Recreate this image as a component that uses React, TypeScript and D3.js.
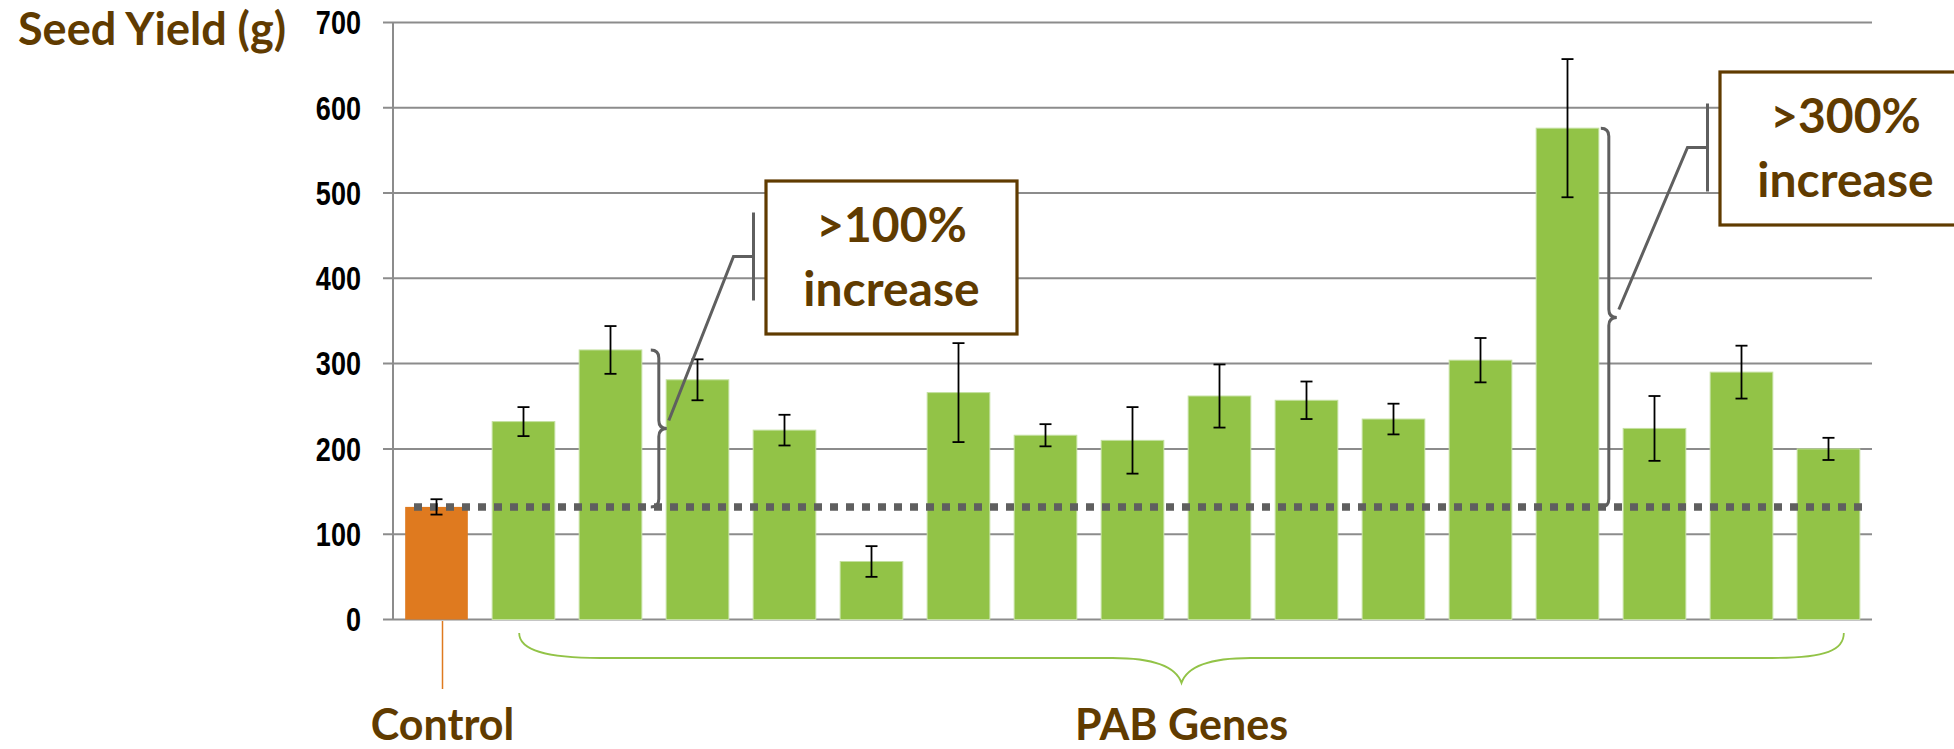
import React from "react";
import * as d3 from "d3";

const categories = ["Control", "PAB1", "PAB2", "PAB3", "PAB4", "PAB5", "PAB6", "PAB7", "PAB8", "PAB9", "PAB10", "PAB11", "PAB12", "PAB13", "PAB14", "PAB15", "PAB16"];
const values = [132, 232, 316, 281, 222, 68, 266, 216, 210, 262, 257, 235, 304, 576, 224, 290, 200];
const errors = [9, 17, 28, 24, 18, 18, 58, 13, 39, 37, 22, 18, 26, 81, 38, 31, 13];
const yTicks = [0, 100, 200, 300, 400, 500, 600, 700];
const yTitle = "Seed Yield (g)";
const groupLabels = ["Control", "PAB Genes"];
const annotations = [
  { from: 2, line1: ">100%", line2: "increase" },
  { from: 13, line1: ">300%", line2: "increase" },
];

const W = 1954;
const H = 749;
const BROWN = "#603b00";
const GREEN = "#92c347";
const ORANGE = "#df7a1f";
const GRID = "#8c8c8c";
const DARK = "#5f5f5f";
const LABEL_FONT = "Lato, 'Open Sans', sans-serif";

export default function App() {
  const x = d3
    .scaleBand<string>()
    .domain(categories)
    .range([393, 1872])
    .paddingInner(0.28)
    .paddingOuter(0.14);
  const y = d3.scaleLinear().domain([0, 700]).range([619.5, 22.4]);
  const bw = x.bandwidth();
  const base = values[0];
  const yBase = y(base);

  const brace = (sx: number, y1: number, y2: number) => {
    const ym = (y1 + y2) / 2;
    const h = 8;
    return `M${sx - h},${y1} Q${sx},${y1} ${sx},${y1 + h} L${sx},${ym - h} Q${sx},${ym} ${sx + h},${ym} Q${sx},${ym} ${sx},${ym + h} L${sx},${y2 - h} Q${sx},${y2} ${sx - h},${y2}`;
  };

  const boxes = [
    { bx: 766, by: 181, off: 17 },
    { bx: 1720, by: 72, off: 10 },
  ];
  const boxW = 251;
  const boxH = 153;

  // bottom green brace
  const gL = (x(categories[1]) as number) + 27;
  const gR = (x(categories[16]) as number) + bw - 16;
  const gM = (gL + gR) / 2;
  const gTop = 633;
  const gMid = 658;
  const gTip = 683;
  const greenBrace = `M${gL},${gTop} C${gL},${gMid - 8} ${gL + 26},${gMid} ${gL + 81},${gMid} L${gM - 69},${gMid} C${gM - 31},${gMid} ${gM - 6},${gMid + 7} ${gM},${gTip} C${gM + 6},${gMid + 7} ${gM + 31},${gMid} ${gM + 69},${gMid} L${gR - 72},${gMid} C${gR - 17},${gMid} ${gR},${gMid - 8} ${gR},${gTop}`;

  const ctrlX = (x(categories[0]) as number) + bw / 2 + 6;

  return (
    <svg
      width={W}
      height={H}
      style={{ position: "absolute", left: 0, top: 0, background: "#fff" }}
      xmlns="http://www.w3.org/2000/svg"
    >
      {/* gridlines */}
      {yTicks.map((t) => (
        <line key={"g" + t} x1={383} x2={1872} y1={y(t)} y2={y(t)} stroke={GRID} strokeWidth={2} />
      ))}
      <line x1={393} x2={393} y1={y(700)} y2={y(0)} stroke={GRID} strokeWidth={2} />
      {/* tick labels */}
      {yTicks.map((t) => (
        <text
          key={"t" + t}
          transform={`translate(361,${y(t)}) scale(0.82,1)`}
          dy="0.36em"
          textAnchor="end"
          fontFamily="'Liberation Sans', Arial, sans-serif"
          fontWeight="bold"
          fontSize={33}
          fill="#000"
        >
          {t}
        </text>
      ))}
      {/* bars */}
      {values.map((v, i) => (
        <rect
          key={"b" + i}
          x={x(categories[i])}
          y={y(v)}
          width={bw}
          height={y(0) - y(v)}
          fill={i === 0 ? ORANGE : GREEN}
          stroke={i === 0 ? "none" : "#c4e0a0"}
          strokeWidth={1}
        />
      ))}
      {/* dotted baseline */}
      <line x1={414} x2={1866} y1={yBase} y2={yBase} stroke={DARK} strokeWidth={7.5} strokeDasharray="8 8" />
      {/* error bars */}
      {values.map((v, i) => {
        const cx = (x(categories[i]) as number) + bw / 2;
        const t = y(v + errors[i]);
        const b = y(v - errors[i]);
        return (
          <g key={"e" + i} stroke="#000" strokeWidth={1.8}>
            <line x1={cx} x2={cx} y1={t} y2={b} />
            <line x1={cx - 6} x2={cx + 6} y1={t} y2={t} />
            <line x1={cx - 6} x2={cx + 6} y1={b} y2={b} />
          </g>
        );
      })}
      {/* annotations */}
      {annotations.map((a, k) => {
        const bb = boxes[k];
        const sx = (x(categories[a.from]) as number) + bw + bb.off;
        const y1 = y(values[a.from]);
        const ym = (y1 + yBase) / 2;
        const cy = bb.by + boxH / 2 - 1;
        const barX = bb.bx - 12.5;
        return (
          <g key={"a" + k}>
            <path d={brace(sx, y1, yBase)} fill="none" stroke={DARK} strokeWidth={3} />
            <polyline
              points={`${sx + 10},${ym - 8} ${barX - 20},${cy} ${barX},${cy}`}
              fill="none"
              stroke={DARK}
              strokeWidth={3}
            />
            <line x1={barX} x2={barX} y1={cy - 44} y2={cy + 44} stroke={DARK} strokeWidth={3} />
            <rect x={bb.bx} y={bb.by} width={boxW} height={boxH} fill="#fff" stroke={BROWN} strokeWidth={3.2} />
            <text
              x={bb.bx + boxW / 2}
              y={bb.by + 61}
              textAnchor="middle"
              fontFamily={LABEL_FONT}
              fontWeight="bold"
              fontSize={48}
              fill={BROWN}
            >
              {a.line1}
            </text>
            <text
              x={bb.bx + boxW / 2}
              y={bb.by + 125}
              textAnchor="middle"
              fontFamily={LABEL_FONT}
              fontWeight="bold"
              fontSize={48}
              fill={BROWN}
            >
              {a.line2}
            </text>
          </g>
        );
      })}
      {/* control pointer */}
      <line x1={ctrlX} x2={ctrlX} y1={621} y2={689} stroke={ORANGE} strokeWidth={1.5} />
      {/* green brace */}
      <path d={greenBrace} fill="none" stroke={GREEN} strokeWidth={1.8} />
      {/* labels */}
      <text x={18} y={45} fontFamily={LABEL_FONT} fontWeight="bold" fontSize={45} fill={BROWN}>
        {yTitle}
      </text>
      <text x={ctrlX} y={740} textAnchor="middle" fontFamily={LABEL_FONT} fontWeight="bold" fontSize={43} fill={BROWN}>
        {groupLabels[0]}
      </text>
      <text x={gM} y={740} textAnchor="middle" fontFamily={LABEL_FONT} fontWeight="bold" fontSize={43} fill={BROWN}>
        {groupLabels[1]}
      </text>
    </svg>
  );
}
